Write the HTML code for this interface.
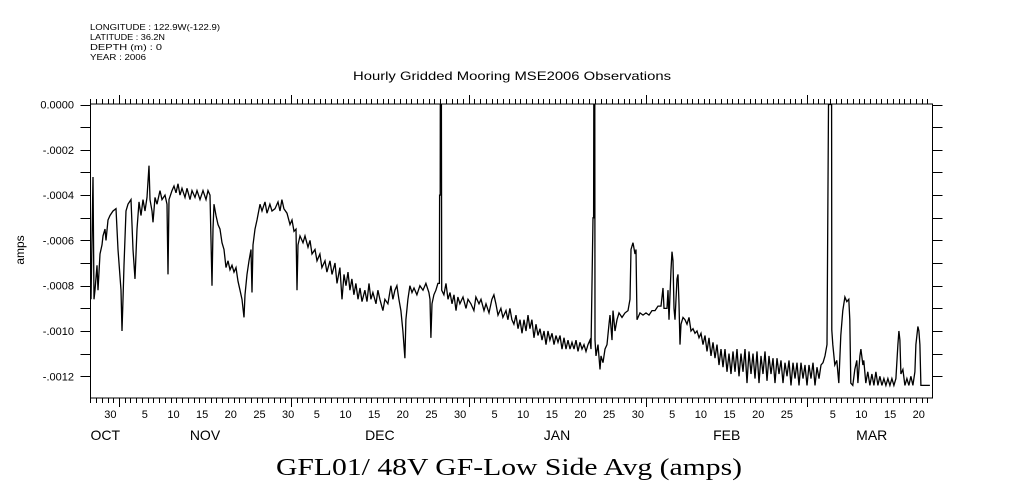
<!DOCTYPE html>
<html><head><meta charset="utf-8"><style>
html,body{margin:0;padding:0;background:#fff;}
svg{display:block;}
text{font-family:"Liberation Sans",sans-serif;fill:#000;}
</style></head><body>
<svg id="chart" width="1009" height="504" viewBox="0 0 1009 504" xmlns="http://www.w3.org/2000/svg">
<g font-size="8.5">
<text x="90" y="30" textLength="130" lengthAdjust="spacingAndGlyphs">LONGITUDE : 122.9W(-122.9)</text>
<text x="90" y="40" textLength="75" lengthAdjust="spacingAndGlyphs">LATITUDE : 36.2N</text>
<text x="90" y="50" textLength="72" lengthAdjust="spacingAndGlyphs">DEPTH (m) : 0</text>
<text x="90" y="60" textLength="56" lengthAdjust="spacingAndGlyphs">YEAR : 2006</text>
</g>
<text x="353" y="80" font-size="12" textLength="318" lengthAdjust="spacingAndGlyphs">Hourly Gridded Mooring MSE2006 Observations</text>
<text x="24" y="250" font-size="12" text-anchor="middle" transform="rotate(-90 24 250)">amps</text>
<text x="276" y="475" font-size="24" textLength="466" lengthAdjust="spacingAndGlyphs" style="font-family:'Liberation Serif',serif">GFL01/ 48V GF-Low Side Avg (amps)</text>
<g id="axes"></g>
<g id="plot"></g>
</svg>
<script>
const yTicks=[0,-2,-4,-6,-8,-10,-12];
const yTickLabels=["0.0000","-.0002","-.0004","-.0006","-.0008","-.0010","-.0012"];
const monthNames=["OCT","NOV","DEC","JAN","FEB","MAR"];
const monthLabelDays=[-2.4,15,45.5,76.4,106,131.3];
const monthStarts=[0,30,61,92,120];
const dayLabels=["30","5","10","15","20","25","30","5","10","15","20","25","30","5","10","15","20","25","30","5","10","15","20","25","5","10","15","20"];
const dayLabelDays=[-2,4,9,14,19,24,29,34,39,44,49,54,59,65,70,75,80,85,90,96,101,106,111,116,124,129,134,139];
const days=[-4.88,-4.53,-4.36,-4.19,-3.84,-3.66,-3.31,-2.97,-2.79,-2.44,-2.27,-1.92,-1.57,-1.05,-0.52,-0.17,0.35,0.52,0.70,0.87,1.22,1.57,2.09,2.44,2.79,3.14,3.49,3.84,4.19,4.53,4.88,5.23,5.41,5.76,5.93,6.28,6.63,7.15,7.5,8.02,8.37,8.55,8.72,9.24,9.59,9.94,10.29,10.64,10.99,11.51,11.86,12.38,12.73,13.25,13.6,14.13,14.65,15.17,15.52,15.87,16.05,16.22,16.39,16.57,16.92,17.27,17.61,17.96,18.31,18.66,19.01,19.36,19.71,20.06,20.41,20.75,21.1,21.45,21.8,21.98,22.33,22.67,23.02,23.2,23.37,23.72,24.07,24.59,24.94,25.46,25.81,26.33,26.68,27.21,27.73,28.08,28.42,28.77,29.3,29.82,30.17,30.52,30.87,31.04,31.22,31.57,32.09,32.44,32.96,33.31,33.66,34.18,34.53,35.05,35.4,35.93,36.27,36.8,37.15,37.67,38.02,38.54,38.89,39.24,39.59,39.94,40.28,40.63,40.98,41.33,41.68,42.03,42.38,42.9,43.25,43.6,43.94,44.29,44.82,45.16,45.51,46.03,46.38,46.91,47.43,47.78,48.13,48.48,48.83,49.18,49.52,49.87,50.05,50.4,50.75,51.1,51.45,51.97,52.49,53.02,53.54,54.06,54.24,54.41,54.59,54.93,55.28,55.63,55.89,55.93,56.03,56.05,56.24,56.28,56.68,57.03,57.38,57.73,58.08,58.43,58.78,59.12,59.47,60.0,60.52,60.87,61.39,61.91,62.26,62.79,63.14,63.66,64.01,64.53,65.05,65.4,65.75,66.1,66.62,66.97,67.5,67.84,68.19,68.54,68.89,69.24,69.59,69.94,70.29,70.64,70.99,71.34,71.68,72.03,72.38,72.73,73.08,73.43,73.78,74.13,74.48,74.83,75.17,75.52,75.87,76.22,76.57,76.92,77.27,77.62,77.97,78.31,78.66,79.01,79.36,79.71,80.06,80.41,80.76,81.11,81.46,81.8,82.15,82.33,82.68,82.78,82.82,82.99,83.03,83.2,83.55,83.9,84.07,84.42,84.77,85.12,85.47,85.64,85.99,86.17,86.52,86.86,87.21,87.74,88.26,88.78,89.13,89.31,89.66,90.01,90.18,90.36,90.88,91.4,91.93,92.45,92.97,93.5,94.02,94.54,94.89,95.06,95.59,95.76,95.93,96.28,96.46,96.63,96.81,96.98,97.33,97.5,97.68,97.85,98.03,98.37,98.72,99.07,99.42,99.77,100.12,100.47,100.82,101.17,101.51,101.86,102.21,102.56,102.91,103.26,103.61,103.96,104.31,104.66,105.0,105.35,105.7,106.05,106.4,106.75,107.1,107.45,107.8,108.15,108.49,108.84,109.19,109.54,109.89,110.24,110.59,110.94,111.29,111.63,111.98,112.33,112.68,113.03,113.38,113.73,114.08,114.43,114.78,115.12,115.47,115.82,116.17,116.52,116.87,117.22,117.57,117.92,118.26,118.61,118.96,119.31,119.66,120.01,120.36,120.71,121.06,121.41,121.75,122.1,122.45,122.8,123.15,123.5,123.76,124.29,124.34,124.51,124.86,125.21,125.56,125.91,126.26,126.61,126.95,127.3,127.48,127.65,128.0,128.35,128.7,128.88,129.23,129.4,129.75,129.92,130.27,130.62,130.97,131.32,131.67,132.02,132.37,132.72,133.07,133.42,133.77,134.11,134.46,134.81,135.16,135.51,135.86,136.03,136.21,136.38,136.73,137.08,137.43,137.78,138.13,138.48,138.83,139.0,139.35,139.52,139.7,139.87,141.44];
const valsE4=[-8.6,-3.2,-8.6,-8.2,-7.1,-8.2,-6.6,-6.2,-5.8,-5.5,-6.0,-5.1,-4.9,-4.7,-4.6,-6.4,-8.2,-10.0,-8.6,-7.1,-4.7,-4.4,-4.2,-6.4,-7.7,-5.5,-4.3,-4.9,-4.2,-4.7,-4.1,-2.7,-4.2,-4.7,-5.2,-4.1,-4.4,-3.8,-4.2,-4.0,-4.4,-7.5,-4.2,-3.8,-3.6,-3.9,-3.5,-4.0,-3.7,-4.1,-3.7,-4.2,-3.8,-4.1,-3.8,-4.2,-3.8,-4.2,-3.8,-4.0,-6.0,-8.0,-5.5,-4.4,-4.9,-5.3,-5.5,-6.1,-6.4,-7.2,-6.9,-7.3,-7.1,-7.4,-7.2,-7.8,-8.2,-8.6,-9.4,-8.4,-7.5,-6.9,-6.4,-8.3,-6.2,-5.5,-5.1,-4.4,-4.7,-4.3,-4.8,-4.4,-4.7,-4.6,-4.3,-4.7,-4.2,-4.6,-4.8,-5.3,-5.1,-5.6,-5.5,-8.2,-6.2,-5.8,-6.1,-5.8,-6.3,-6.0,-6.6,-6.4,-6.9,-6.6,-7.2,-6.9,-7.4,-6.9,-7.5,-7.0,-7.9,-7.2,-8.6,-7.5,-8.0,-7.4,-8.2,-7.7,-8.4,-7.9,-8.6,-8.1,-8.7,-8.2,-8.7,-7.9,-8.6,-8.3,-8.8,-8.2,-8.6,-9.1,-8.6,-8.8,-8.0,-8.6,-8.2,-8.0,-8.6,-9.1,-10.0,-11.2,-9.5,-8.6,-8.0,-8.3,-8.1,-8.4,-8.0,-8.2,-7.9,-8.3,-8.6,-10.3,-8.8,-8.4,-8.2,-7.9,-7.9,-4.0,-4.0,0,0,-8.2,-8.4,-7.9,-8.6,-8.3,-8.8,-8.4,-9.1,-8.5,-8.8,-8.5,-9.0,-8.6,-8.8,-9.1,-8.5,-8.8,-8.6,-9.1,-8.8,-9.2,-8.6,-8.4,-8.8,-9.3,-9.0,-9.4,-9.1,-9.5,-9.0,-9.5,-9.7,-9.3,-9.9,-9.5,-10.1,-9.5,-10.0,-9.3,-9.9,-9.5,-10.3,-9.7,-10.2,-9.9,-10.4,-10.0,-10.6,-10.0,-10.4,-10.1,-10.6,-10.2,-10.5,-10.2,-10.8,-10.3,-10.8,-10.4,-10.8,-10.5,-10.8,-10.4,-10.9,-10.5,-10.8,-10.6,-10.9,-10.6,-10.4,-10.8,-5.0,-5.0,0,0,-10.4,-11.1,-10.6,-11.7,-11.1,-11.4,-10.8,-10.6,-9.7,-9.3,-10.4,-9.1,-10.0,-9.5,-9.2,-9.4,-9.2,-9.1,-8.6,-6.4,-6.1,-6.6,-6.4,-9.5,-9.2,-9.3,-9.2,-9.3,-9.1,-9.1,-8.9,-8.9,-8.1,-9.0,-9.0,-8.2,-9.5,-7.3,-6.5,-6.9,-9.0,-9.5,-7.7,-7.5,-8.8,-10.6,-9.7,-9.4,-9.5,-9.7,-9.4,-10.0,-9.9,-10.1,-10.0,-10.3,-10.1,-10.6,-10.2,-10.9,-10.3,-11.1,-10.5,-11.2,-10.6,-11.5,-10.8,-11.6,-10.8,-11.8,-11.0,-11.9,-10.9,-11.8,-10.8,-12.0,-11.0,-11.8,-10.8,-12.3,-10.9,-11.9,-11.0,-12.1,-10.9,-12.3,-11.1,-11.9,-10.9,-12.2,-11.1,-11.9,-11.2,-12.3,-11.2,-11.9,-11.3,-12.3,-11.4,-12.0,-11.3,-12.4,-11.4,-12.1,-11.4,-12.4,-11.4,-12.1,-11.5,-12.4,-11.5,-12.1,-11.4,-12.4,-11.6,-12.1,-11.5,-11.4,-11.1,-10.6,0,0,-9.96,-10.6,-11.5,-11.3,-12.3,-10.2,-9.1,-8.5,-8.7,-8.6,-9.5,-12.3,-12.4,-11.7,-11.3,-12.3,-11.1,-10.8,-11.5,-11.3,-12.3,-11.8,-12.4,-11.9,-12.4,-11.8,-12.4,-12.0,-12.4,-12.1,-12.4,-12.1,-12.4,-12.1,-12.4,-12.1,-10.6,-10.0,-10.4,-11.9,-11.7,-12.4,-12.1,-12.4,-12.0,-12.4,-11.8,-10.6,-9.8,-10.0,-10.6,-12.4,-12.4];

const X0=90.5,X1=932.5,Y0=104,Y1=398;
const xs=d=>119+d*5.733;
const ys=v=>104.5-v*22.65;
const NS='http://www.w3.org/2000/svg';
function mk(tag,attrs,parent){const e=document.createElementNS(NS,tag);for(const k in attrs)e.setAttribute(k,attrs[k]);parent.appendChild(e);return e;}
const axes=document.getElementById('axes'),plot=document.getElementById('plot');
const frame=mk('rect',{x:X0,y:Y0,width:X1-X0,height:Y1-Y0,fill:'none',stroke:'#000','stroke-width':1},axes);


let tp='';
for(let d=-5;d<=142;d++){const x=Math.round(xs(d))+0.5;if(x<X0||x>X1)continue;const L=monthStarts.includes(d)?9:5;tp+=`M${x} ${Y1}v${L}M${x} ${Y0}v${-L}`;}
for(let v=0;v>=-12;v--){const y=Math.round(ys(v))+0.5;tp+=`M${X0} ${y}h-10M${X1} ${y}h10`;}
const ticks=mk('path',{d:tp,stroke:'#000','stroke-width':1,fill:'none'},axes);


yTicks.forEach((v,i)=>{const t=mk('text',{x:74,y:ys(v)+4,'font-size':11,'text-anchor':'end'},axes);t.textContent=yTickLabels[i];

});
dayLabels.forEach((s,i)=>{const t=mk('text',{x:xs(dayLabelDays[i]+0.5),y:418,'font-size':11,'text-anchor':'middle'},axes);t.textContent=s;

});
monthNames.forEach((s,i)=>{const t=mk('text',{x:xs(monthLabelDays[i]),y:440,'font-size':14,'text-anchor':'middle'},axes);t.textContent=s;

});
let p='';
days.forEach((d,i)=>{p+=(i?'L':'M')+xs(d).toFixed(1)+' '+ys(valsE4[i]).toFixed(1);});
const line=mk('path',{d:p,stroke:'#000','stroke-width':1.3,fill:'none','stroke-linejoin':'miter'},plot);


</script>
</body></html>
